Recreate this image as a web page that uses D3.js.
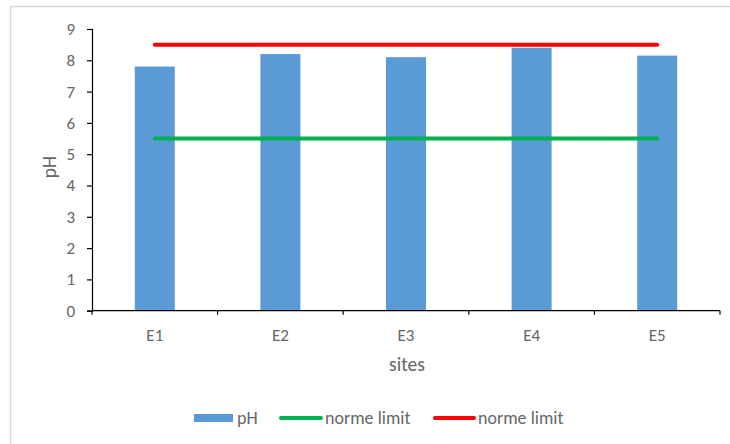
<!DOCTYPE html>
<html>
<head>
<meta charset="utf-8">
<script src="https://cdn.jsdelivr.net/npm/d3@7"></script>
<style>
  html, body { margin: 0; padding: 0; background: #fff; }
  svg { display: block; font-family: Carlito, Lato, "Open Sans", sans-serif; }
</style>
</head>
<body>
<svg id="chart" width="730" height="444"></svg>
<script>
const sites = ["E1", "E2", "E3", "E4", "E5"];
const phValues = [7.8, 8.2, 8.1, 8.4, 8.15];
const lowerLimit = [5.5, 5.5, 5.5, 5.5, 5.5];
const upperLimit = [8.5, 8.5, 8.5, 8.5, 8.5];
const yTicks = [0, 1, 2, 3, 4, 5, 6, 7, 8, 9];
const legendLabels = ["pH", "norme limit", "norme limit"];

const svg = d3.select("#chart");
const x0 = 92, x1 = 720, yTop = 29, yBot = 310.7;
const textColor = "#666666";

// outer frame
svg.append("rect").attr("x", 10.5).attr("y", 6.5).attr("width", 730).attr("height", 450)
  .attr("fill", "#fff").attr("stroke", "#d9d9d9").attr("stroke-width", 1.5);

const xc = d3.scaleBand().domain(sites).range([x0, x1]);
const y = d3.scaleLinear().domain([0, 9]).range([yBot, yTop]);

// bars
svg.append("g").selectAll("rect").data(sites).join("rect")
  .attr("x", d => xc(d) + xc.bandwidth() / 2 - 20)
  .attr("width", 40)
  .attr("y", (d, i) => y(phValues[i]))
  .attr("height", (d, i) => y(0) - y(phValues[i]))
  .attr("fill", "#5b9bd5");

// axes
const yAxis = d3.axisLeft(y).tickValues(yTicks).tickSize(5).tickPadding(12).tickFormat(d3.format("d"));
const gy = svg.append("g").attr("transform", `translate(${x0},0)`).call(yAxis);
gy.select(".domain").attr("stroke", "#000").attr("stroke-width", 1.2);
gy.selectAll(".tick line").attr("stroke", "#000").attr("stroke-width", 1.2);
gy.selectAll(".tick text").attr("fill", textColor).attr("font-size", 17).attr("font-family", "Carlito, Lato, sans-serif");

const gx = svg.append("g").attr("transform", `translate(0,${yBot})`);
gx.append("line").attr("x1", x0).attr("x2", x1).attr("stroke", "#000").attr("stroke-width", 1.2);
const boundaries = sites.map(s => xc(s)).concat([x1]);
gx.selectAll("line.tk").data(boundaries).join("line").attr("class", "tk")
  .attr("x1", d => d).attr("x2", d => d).attr("y1", 0).attr("y2", 4)
  .attr("stroke", "#000").attr("stroke-width", 1.2);
gx.selectAll("text").data(sites).join("text")
  .attr("x", d => xc(d) + xc.bandwidth() / 2).attr("y", 30)
  .attr("text-anchor", "middle").attr("fill", textColor).attr("font-size", 17)
  .text(d => d);

// limit lines
const line = d3.line().x((d, i) => xc(sites[i]) + xc.bandwidth() / 2).y(d => y(d));
svg.append("path").datum(lowerLimit).attr("d", line).attr("fill", "none")
  .attr("stroke", "#00b050").attr("stroke-width", 4).attr("stroke-linecap", "round");
svg.append("path").datum(upperLimit).attr("d", line).attr("fill", "none")
  .attr("stroke", "#ff0000").attr("stroke-width", 4).attr("stroke-linecap", "round");

// axis titles
svg.append("text").attr("x", 407).attr("y", 371).attr("text-anchor", "middle")
  .attr("fill", textColor).attr("font-size", 19.5).text("sites");
svg.append("text").attr("transform", "translate(56,167) rotate(-90)").attr("text-anchor", "middle")
  .attr("fill", textColor).attr("font-size", 19.5).text("pH");

// legend
const lg = svg.append("g");
lg.append("rect").attr("x", 194).attr("y", 414).attr("width", 39).attr("height", 8).attr("fill", "#5b9bd5");
lg.append("text").attr("x", 237).attr("y", 424).attr("fill", textColor).attr("font-size", 18).text(legendLabels[0]);
lg.append("line").attr("x1", 281).attr("x2", 321).attr("y1", 418).attr("y2", 418)
  .attr("stroke", "#00b050").attr("stroke-width", 4).attr("stroke-linecap", "round");
lg.append("text").attr("x", 325).attr("y", 424).attr("fill", textColor).attr("font-size", 18).text(legendLabels[1]);
lg.append("line").attr("x1", 435).attr("x2", 474).attr("y1", 418).attr("y2", 418)
  .attr("stroke", "#ff0000").attr("stroke-width", 4).attr("stroke-linecap", "round");
lg.append("text").attr("x", 478).attr("y", 424).attr("fill", textColor).attr("font-size", 18).text(legendLabels[2]);
</script>
</body>
</html>
